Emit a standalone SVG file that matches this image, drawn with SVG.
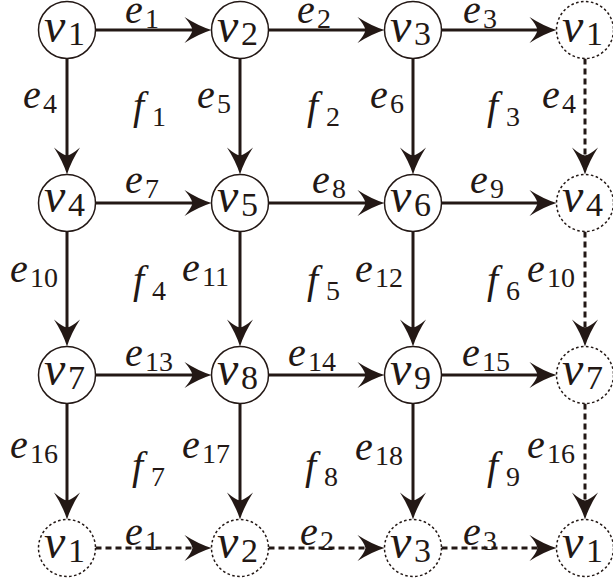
<svg xmlns="http://www.w3.org/2000/svg" width="613" height="586" viewBox="0 0 613 586">
<style>
.node{fill:#fff;stroke:#231815;stroke-width:1.5}
.noded{fill:#fff;stroke:#231815;stroke-width:1.5;stroke-dasharray:2.6 2.4}
.edge{stroke:#231815;stroke-width:3;fill:none}
.edged{stroke:#231815;stroke-width:3;fill:none;stroke-dasharray:6 4}
</style>
<defs>
<marker id="ah" markerUnits="userSpaceOnUse" orient="auto" overflow="visible" refX="0" refY="0" markerWidth="1" markerHeight="1">
<path d="M15,0 Q2,-4 -12,-13 Q-5,-5 -4,0 Q-5,5 -12,13 Q2,4 15,0Z" fill="#231815"/>
</marker>
</defs>
<g id="connectors">
<path class="edge" d="M95.5,30H196.5" marker-end="url(#ah)"/>
<path class="edge" d="M268.5,30H369.5" marker-end="url(#ah)"/>
<path class="edge" d="M441.5,30H541.5" marker-end="url(#ah)"/>
<path class="edge" d="M95.5,203H196.5" marker-end="url(#ah)"/>
<path class="edge" d="M268.5,203H369.5" marker-end="url(#ah)"/>
<path class="edge" d="M441.5,203H541.5" marker-end="url(#ah)"/>
<path class="edge" d="M95.5,375H196.5" marker-end="url(#ah)"/>
<path class="edge" d="M268.5,375H369.5" marker-end="url(#ah)"/>
<path class="edge" d="M441.5,375H541.5" marker-end="url(#ah)"/>
<path class="edged" d="M95.5,548H196.5" marker-end="url(#ah)"/>
<path class="edged" d="M268.5,548H369.5" marker-end="url(#ah)"/>
<path class="edged" d="M441.5,548H541.5" marker-end="url(#ah)"/>
<path class="edge" d="M67,58.5V159.5" marker-end="url(#ah)"/>
<path class="edge" d="M240,58.5V159.5" marker-end="url(#ah)"/>
<path class="edge" d="M413,58.5V159.5" marker-end="url(#ah)"/>
<path class="edged" d="M585,58.5V159.5" marker-end="url(#ah)"/>
<path class="edge" d="M67,231.5V331.5" marker-end="url(#ah)"/>
<path class="edge" d="M240,231.5V331.5" marker-end="url(#ah)"/>
<path class="edge" d="M413,231.5V331.5" marker-end="url(#ah)"/>
<path class="edged" d="M585,231.5V331.5" marker-end="url(#ah)"/>
<path class="edge" d="M67,403.5V504.5" marker-end="url(#ah)"/>
<path class="edge" d="M240,403.5V504.5" marker-end="url(#ah)"/>
<path class="edge" d="M413,403.5V504.5" marker-end="url(#ah)"/>
<path class="edged" d="M585,403.5V504.5" marker-end="url(#ah)"/>
</g>
<g id="labels" fill="#231815">
<text x="125" y="23" font-family="Liberation Serif" font-style="italic" font-size="40">e</text><text x="145" y="28" font-family="Liberation Serif" font-size="28">1</text>
<text x="297" y="23" font-family="Liberation Serif" font-style="italic" font-size="40">e</text><text x="317" y="28" font-family="Liberation Serif" font-size="28">2</text>
<text x="463" y="23" font-family="Liberation Serif" font-style="italic" font-size="40">e</text><text x="483" y="28" font-family="Liberation Serif" font-size="28">3</text>
<text x="125" y="193" font-family="Liberation Serif" font-style="italic" font-size="40">e</text><text x="145" y="198" font-family="Liberation Serif" font-size="28">7</text>
<text x="312" y="193" font-family="Liberation Serif" font-style="italic" font-size="40">e</text><text x="332" y="198" font-family="Liberation Serif" font-size="28">8</text>
<text x="470" y="193" font-family="Liberation Serif" font-style="italic" font-size="40">e</text><text x="490" y="198" font-family="Liberation Serif" font-size="28">9</text>
<text x="125" y="366" font-family="Liberation Serif" font-style="italic" font-size="40">e</text><text x="145" y="371" font-family="Liberation Serif" font-size="28">13</text>
<text x="288" y="366" font-family="Liberation Serif" font-style="italic" font-size="40">e</text><text x="308" y="371" font-family="Liberation Serif" font-size="28">14</text>
<text x="462" y="366" font-family="Liberation Serif" font-style="italic" font-size="40">e</text><text x="482" y="371" font-family="Liberation Serif" font-size="28">15</text>
<text x="125" y="545" font-family="Liberation Serif" font-style="italic" font-size="40">e</text><text x="145" y="550" font-family="Liberation Serif" font-size="28">1</text>
<text x="300" y="545" font-family="Liberation Serif" font-style="italic" font-size="40">e</text><text x="320" y="550" font-family="Liberation Serif" font-size="28">2</text>
<text x="463" y="545" font-family="Liberation Serif" font-style="italic" font-size="40">e</text><text x="483" y="550" font-family="Liberation Serif" font-size="28">3</text>
<text x="23" y="108" font-family="Liberation Serif" font-style="italic" font-size="40">e</text><text x="43" y="113" font-family="Liberation Serif" font-size="28">4</text>
<text x="133" y="119" font-family="Liberation Serif" font-style="italic" font-size="40">f</text><text x="152" y="126" font-family="Liberation Serif" font-size="28">1</text>
<text x="197" y="108" font-family="Liberation Serif" font-style="italic" font-size="40">e</text><text x="217" y="113" font-family="Liberation Serif" font-size="28">5</text>
<text x="307" y="119" font-family="Liberation Serif" font-style="italic" font-size="40">f</text><text x="326" y="126" font-family="Liberation Serif" font-size="28">2</text>
<text x="370" y="108" font-family="Liberation Serif" font-style="italic" font-size="40">e</text><text x="390" y="113" font-family="Liberation Serif" font-size="28">6</text>
<text x="487" y="119" font-family="Liberation Serif" font-style="italic" font-size="40">f</text><text x="506" y="126" font-family="Liberation Serif" font-size="28">3</text>
<text x="542" y="108" font-family="Liberation Serif" font-style="italic" font-size="40">e</text><text x="562" y="113" font-family="Liberation Serif" font-size="28">4</text>
<text x="10" y="282" font-family="Liberation Serif" font-style="italic" font-size="40">e</text><text x="30" y="287" font-family="Liberation Serif" font-size="28">10</text>
<text x="133" y="293" font-family="Liberation Serif" font-style="italic" font-size="40">f</text><text x="152" y="300" font-family="Liberation Serif" font-size="28">4</text>
<text x="182" y="281" font-family="Liberation Serif" font-style="italic" font-size="40">e</text><text x="202" y="286" font-family="Liberation Serif" font-size="28">11</text>
<text x="307" y="293" font-family="Liberation Serif" font-style="italic" font-size="40">f</text><text x="326" y="300" font-family="Liberation Serif" font-size="28">5</text>
<text x="355" y="282" font-family="Liberation Serif" font-style="italic" font-size="40">e</text><text x="375" y="287" font-family="Liberation Serif" font-size="28">12</text>
<text x="487" y="293" font-family="Liberation Serif" font-style="italic" font-size="40">f</text><text x="506" y="300" font-family="Liberation Serif" font-size="28">6</text>
<text x="527" y="282" font-family="Liberation Serif" font-style="italic" font-size="40">e</text><text x="547" y="287" font-family="Liberation Serif" font-size="28">10</text>
<text x="10" y="458" font-family="Liberation Serif" font-style="italic" font-size="40">e</text><text x="30" y="463" font-family="Liberation Serif" font-size="28">16</text>
<text x="132" y="479" font-family="Liberation Serif" font-style="italic" font-size="40">f</text><text x="151" y="486" font-family="Liberation Serif" font-size="28">7</text>
<text x="182" y="458" font-family="Liberation Serif" font-style="italic" font-size="40">e</text><text x="202" y="463" font-family="Liberation Serif" font-size="28">17</text>
<text x="305" y="479" font-family="Liberation Serif" font-style="italic" font-size="40">f</text><text x="324" y="486" font-family="Liberation Serif" font-size="28">8</text>
<text x="355" y="460" font-family="Liberation Serif" font-style="italic" font-size="40">e</text><text x="375" y="465" font-family="Liberation Serif" font-size="28">18</text>
<text x="487" y="479" font-family="Liberation Serif" font-style="italic" font-size="40">f</text><text x="506" y="486" font-family="Liberation Serif" font-size="28">9</text>
<text x="527" y="458" font-family="Liberation Serif" font-style="italic" font-size="40">e</text><text x="547" y="463" font-family="Liberation Serif" font-size="28">16</text>
</g>
<g id="nodes" fill="#231815">
<g id="n1"><circle class="node" cx="67" cy="30" r="28.5"/><text x="44" y="42" font-family="Liberation Serif" font-style="italic" font-size="48">v</text><text x="68" y="45" font-family="Liberation Serif" font-size="34">1</text></g>
<g id="n2"><circle class="node" cx="240" cy="30" r="28.5"/><text x="217" y="42" font-family="Liberation Serif" font-style="italic" font-size="48">v</text><text x="241" y="45" font-family="Liberation Serif" font-size="34">2</text></g>
<g id="n3"><circle class="node" cx="413" cy="30" r="28.5"/><text x="390" y="42" font-family="Liberation Serif" font-style="italic" font-size="48">v</text><text x="414" y="45" font-family="Liberation Serif" font-size="34">3</text></g>
<g id="n1b"><circle class="noded" cx="585" cy="30" r="28.5"/><text x="562" y="42" font-family="Liberation Serif" font-style="italic" font-size="48">v</text><text x="586" y="45" font-family="Liberation Serif" font-size="34">1</text></g>
<g id="n4"><circle class="node" cx="67" cy="203" r="28.5"/><text x="44" y="212" font-family="Liberation Serif" font-style="italic" font-size="48">v</text><text x="68" y="216" font-family="Liberation Serif" font-size="34">4</text></g>
<g id="n5"><circle class="node" cx="240" cy="203" r="28.5"/><text x="217" y="212" font-family="Liberation Serif" font-style="italic" font-size="48">v</text><text x="241" y="216" font-family="Liberation Serif" font-size="34">5</text></g>
<g id="n6"><circle class="node" cx="413" cy="203" r="28.5"/><text x="390" y="212" font-family="Liberation Serif" font-style="italic" font-size="48">v</text><text x="414" y="216" font-family="Liberation Serif" font-size="34">6</text></g>
<g id="n4b"><circle class="noded" cx="585" cy="203" r="28.5"/><text x="562" y="212" font-family="Liberation Serif" font-style="italic" font-size="48">v</text><text x="586" y="216" font-family="Liberation Serif" font-size="34">4</text></g>
<g id="n7"><circle class="node" cx="67" cy="375" r="28.5"/><text x="44" y="385" font-family="Liberation Serif" font-style="italic" font-size="48">v</text><text x="68" y="389" font-family="Liberation Serif" font-size="34">7</text></g>
<g id="n8"><circle class="node" cx="240" cy="375" r="28.5"/><text x="217" y="385" font-family="Liberation Serif" font-style="italic" font-size="48">v</text><text x="241" y="389" font-family="Liberation Serif" font-size="34">8</text></g>
<g id="n9"><circle class="node" cx="413" cy="375" r="28.5"/><text x="390" y="385" font-family="Liberation Serif" font-style="italic" font-size="48">v</text><text x="414" y="389" font-family="Liberation Serif" font-size="34">9</text></g>
<g id="n7b"><circle class="noded" cx="585" cy="375" r="28.5"/><text x="562" y="385" font-family="Liberation Serif" font-style="italic" font-size="48">v</text><text x="586" y="389" font-family="Liberation Serif" font-size="34">7</text></g>
<g id="n1c"><circle class="noded" cx="67" cy="548" r="28.5"/><text x="44" y="558" font-family="Liberation Serif" font-style="italic" font-size="48">v</text><text x="68" y="562" font-family="Liberation Serif" font-size="34">1</text></g>
<g id="n2c"><circle class="noded" cx="240" cy="548" r="28.5"/><text x="217" y="558" font-family="Liberation Serif" font-style="italic" font-size="48">v</text><text x="241" y="562" font-family="Liberation Serif" font-size="34">2</text></g>
<g id="n3c"><circle class="noded" cx="413" cy="548" r="28.5"/><text x="390" y="558" font-family="Liberation Serif" font-style="italic" font-size="48">v</text><text x="414" y="562" font-family="Liberation Serif" font-size="34">3</text></g>
<g id="n1d"><circle class="noded" cx="585" cy="548" r="28.5"/><text x="562" y="558" font-family="Liberation Serif" font-style="italic" font-size="48">v</text><text x="586" y="562" font-family="Liberation Serif" font-size="34">1</text></g>
</g>
</svg>
